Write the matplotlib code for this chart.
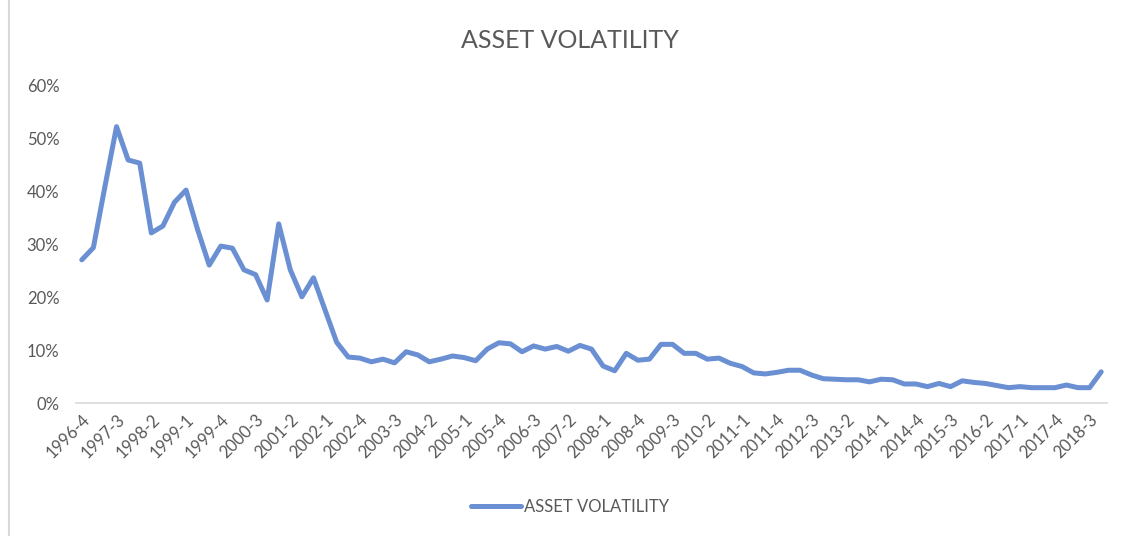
import matplotlib.pyplot as plt
from matplotlib.lines import Line2D
from matplotlib.ticker import PercentFormatter

plt.rcParams['font.family'] = ['Lato', 'DejaVu Sans']

# quarterly asset volatility, 1996-4 .. 2018-4
start_year, start_q = 1996, 4
volatility = [
    27.1, 29.4, 41.0, 52.3, 46.0, 45.4, 32.2, 33.5, 38.0, 40.3,
    32.8, 26.1, 29.7, 29.3, 25.2, 24.3, 19.5, 33.9, 25.2, 20.1,
    23.7, 17.6, 11.5, 8.7, 8.5, 7.8, 8.3, 7.6, 9.7, 9.1,
    7.8, 8.3, 8.9, 8.6, 8.0, 10.2, 11.4, 11.2, 9.7, 10.8,
    10.2, 10.7, 9.8, 10.9, 10.2, 7.0, 6.1, 9.4, 8.1, 8.3,
    11.1, 11.1, 9.4, 9.4, 8.3, 8.5, 7.5, 6.9, 5.7, 5.5,
    5.8, 6.2, 6.2, 5.3, 4.6, 4.5, 4.4, 4.4, 4.0, 4.5,
    4.4, 3.6, 3.6, 3.1, 3.7, 3.1, 4.2, 3.9, 3.7, 3.3,
    2.9, 3.1, 2.9, 2.9, 2.9, 3.4, 2.9, 2.9, 5.9,
]

quarters = []
y, q = start_year, start_q
for _ in volatility:
    quarters.append(f"{y}-{q}")
    q += 1
    if q > 4:
        y, q = y + 1, 1

values = [v / 100 for v in volatility]
x = list(range(len(values)))

text_col = '#595959'
line_col = '#6A8FD2'

fig = plt.figure(figsize=(11.4, 5.36), dpi=100)
ax = fig.add_axes([76 / 1140, 1 - 403 / 536, 1031 / 1140, 317 / 536])

ax.plot(x, values, color=line_col, lw=3.6, solid_joinstyle='round',
        solid_capstyle='round', label='ASSET VOLATILITY')

ax.set_xlim(-0.5, len(values) - 0.5)
ax.set_ylim(0, 0.6)
ax.set_yticks([0, 0.1, 0.2, 0.3, 0.4, 0.5, 0.6])
ax.yaxis.set_major_formatter(PercentFormatter(1.0, decimals=0))

ax.set_xticks(x[::3])
ax.set_xticklabels(quarters[::3], rotation=45, ha='right',
                   rotation_mode='anchor', fontsize=12, color=text_col)
ax.tick_params(axis='y', labelsize=12, labelcolor=text_col, length=0, pad=12)
ax.tick_params(axis='x', length=0, pad=6)

for side in ('top', 'right', 'left'):
    ax.spines[side].set_visible(False)
ax.spines['bottom'].set_color('#D9D9D9')
ax.spines['bottom'].set_linewidth(1.2)

fig.text(0.5, 1 - 40 / 536, 'ASSET VOLATILITY', ha='center', va='center',
         fontsize=18, color=text_col)

handle = Line2D([], [], color=line_col, lw=3.6, solid_capstyle='round')
fig.legend([handle], ['ASSET VOLATILITY'], loc='center',
           bbox_to_anchor=(0.5, 1 - 507 / 536), frameon=False,
           fontsize=12, labelcolor=text_col, handlelength=3.0,
           handletextpad=0.2)

# chart area border on the left edge
fig.add_artist(Line2D([9 / 1140, 9 / 1140], [0, 1], color='#D9D9D9', lw=1.5))

fig.savefig('out.png', dpi=100)
